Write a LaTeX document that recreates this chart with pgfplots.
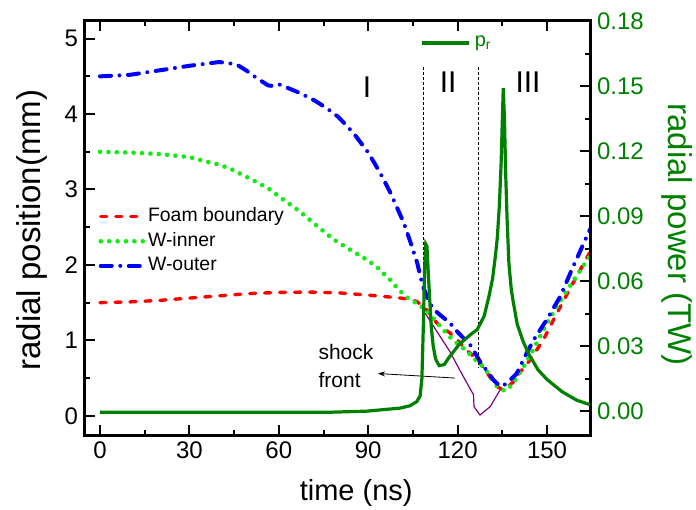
\documentclass[border=0pt]{standalone}
\usepackage{fontspec}
\setmainfont{Liberation Sans}
\usepackage{pgfplots}
\pgfplotsset{compat=1.18}
\usetikzlibrary{arrows.meta}
\definecolor{dgreen}{RGB}{0,128,0}
\definecolor{lgreen}{RGB}{20,235,20}
\definecolor{mypurple}{RGB}{128,0,128}
\begin{document}
\begin{tikzpicture}
\begin{axis}[
 scale only axis, width=252.5pt, height=207pt,
 xmin=-5.03, xmax=164.4, ymin=-0.255, ymax=5.234,
 xtick={0,30,60,90,120,150}, ytick={0,1,2,3,4,5},
 minor x tick num=1, minor y tick num=1,
 tick align=inside, xtick pos=both, ytick pos=left, xticklabel pos=lower,
 major tick length=5pt, minor tick length=2.5pt,
 tick style={line width=1pt, black},
 axis line style={line width=1.5pt, black},
 /pgf/number format/assume math mode=true,
 tick label style={font=\fontsize{12}{14}\selectfont},
 xlabel={time (ns)}, ylabel={radial position(mm)},
 every axis x label/.style={at={(0.537,-0.14)}, anchor=center, font=\fontsize{14.5}{16}\selectfont},
 every axis y label/.style={at={(-0.105,0.495)}, rotate=90, anchor=center, font=\fontsize{16.5}{18}\selectfont},
 clip mode=individual,
 legend cell align=left,
 legend style={draw=none, fill=none, at={(0.014,0.567)}, anchor=north west, font=\fontsize{9.7}{11}\selectfont, row sep=0.3pt, nodes={inner sep=1.5pt, text height=7pt, text depth=2pt}},
 legend image code/.code={\draw[#1] (0pt,0pt) -- (21pt,0pt);},
]
% Foam boundary
\addplot[red, line width=1.7pt, line cap=round, dash pattern=on 3pt off 4.5pt] coordinates {
(0,1.50) (10,1.51) (20,1.53) (30,1.56) (40,1.59) (50,1.62) (60,1.635) (70,1.64) (80,1.63)
(90,1.60) (97,1.575) (101,1.56) (104,1.54) (106.3,1.515) (109.1,1.43) (111,1.33) (113,1.23)
(115,1.16) (117.4,1.10) (120,1.0) (123,0.87) (125.3,0.79) (127.5,0.70) (130,0.56) (133.1,0.39)
(135.3,0.34) (136.5,0.37) (138.7,0.45) (141,0.58) (144.3,0.74) (148.8,1.01) (153.3,1.36)
(158.7,1.76) (164.4,2.17)};
\addlegendentry{Foam boundary}
% W-inner
\addplot[lgreen, line width=2.3pt, line cap=round, dash pattern=on 0pt off 4.2pt] coordinates {
(0,3.50) (10,3.49) (20,3.47) (30,3.43) (35.6,3.37) (40,3.33) (44.6,3.26) (48,3.19) (53,3.09)
(57,3.0) (61,2.88) (67,2.71) (72.7,2.52) (78.3,2.34) (84,2.2) (89.5,2.07) (93,1.97) (97.4,1.80)
(100,1.68) (103,1.57) (105,1.52) (107,1.47) (110,1.38) (114,1.19) (118,1.02) (123,0.86)
(126,0.74) (128.8,0.64) (131,0.52) (133.4,0.38) (135.8,0.33) (138,0.40) (140,0.52) (142,0.64)
(145,0.85) (150,1.23) (155,1.56) (157,1.68) (160.5,1.89) (164.4,2.12)};
\addlegendentry{W-inner}
% W-outer
\addplot[blue, line width=2pt, line cap=round, dash pattern=on 5.5pt off 4.25pt on 0pt off 4.25pt] coordinates {
(0,4.50) (10,4.52) (20,4.58) (30,4.64) (40,4.69) (45.7,4.66) (49,4.58) (52.5,4.48) (56.4,4.38)
(58.5,4.37) (60.3,4.39) (64,4.33) (67,4.28) (72,4.18) (76,4.08) (80,3.96) (85,3.75) (90,3.49)
(94,3.22) (97.4,2.96) (101.9,2.56) (104,2.32) (106.4,2.03) (108.3,1.72) (110.5,1.50) (112,1.41)
(114,1.34) (117.4,1.23) (120.2,1.10) (124.2,0.94) (127.5,0.72) (132,0.475) (134,0.40) (135,0.39)
(137,0.45) (139.8,0.56) (142.5,0.78) (145.4,1.0) (150,1.28) (154.4,1.58) (159,2.0) (164.4,2.47)};
\addlegendentry{W-outer}
% shock front
\addplot[forget plot, mypurple, line width=0.6pt] coordinates {
(109.1,1.36) (113,1.12) (117.4,0.85) (121.9,0.52) (125.3,0.28) (125.5,0.12) (126.4,0.07)
(127.5,0.01) (128.1,0.03) (130.9,0.12) (134.2,0.34)};
% region separators
\addplot[forget plot, black, line width=0.6pt, dash pattern=on 1.5pt off 1pt] coordinates {(108.5,4.63) (108.5,1.5)};
\addplot[forget plot, black, line width=0.6pt, dash pattern=on 1.5pt off 1pt] coordinates {(126.9,4.63) (126.9,0.635)};
% arrow
\addplot[forget plot, black, line width=0.4pt, -{Stealth[length=3.5pt,width=2.5pt]}] coordinates {(119.1,0.50) (93.3,0.56)};
\node[font=\fontsize{15}{17}\selectfont] at (axis cs:89.6,4.35) {I};
\node[font=\fontsize{15}{17}\selectfont] at (axis cs:116.8,4.42) {II};
\node[font=\fontsize{15}{17}\selectfont] at (axis cs:143.6,4.42) {III};
\node[align=left, anchor=west, font=\fontsize{10.5}{14}\selectfont, inner sep=0pt] at (axis cs:73.2,0.66) {shock\\front};
\draw[line width=1.5pt, black] (rel axis cs:0,0) rectangle (rel axis cs:1,1);
\end{axis}
\begin{axis}[
 scale only axis, width=252.5pt, height=207pt,
 xmin=-5.03, xmax=164.4, ymin=-0.011, ymax=0.18,
 axis x line=none, axis y line*=right,
 y axis line style={-, line width=1.5pt, black},
 ytick={0,0.03,0.06,0.09,0.12,0.15,0.18}, minor y tick num=1,
 tick align=inside,
 major tick length=5pt, minor tick length=2.5pt,
 tick style={line width=1pt, black},
 /pgf/number format/assume math mode=true,
 yticklabel style={text=dgreen, font=\fontsize{12}{14}\selectfont, /pgf/number format/.cd, fixed, fixed zerofill, precision=2},
 ylabel={radial power (TW)},
 every axis y label/.style={at={(1.172,0.484)}, rotate=-90, anchor=center, text=dgreen, font=\fontsize{16.5}{18}\selectfont},
 legend style={draw=none, fill=none, at={(0.652,0.947)}, anchor=west, text=dgreen, font=\fontsize{10}{12}\selectfont},
 legend image code/.code={\draw[#1] (0pt,0pt) -- (23.5pt,0pt);},
]
\addplot[dgreen, line width=1.6pt] coordinates {
(0,-0.0005) (40,-0.0005) (77,-0.0005) (89.5,0.0000) (95,0.0007) (100.7,0.0014) (104,0.0025)
(106.3,0.0044) (107.4,0.007) (108.0,0.015) (108.5,0.040) (108.9,0.065) (109.3,0.077) (109.7,0.076)
(110.1,0.065) (110.6,0.052) (111.2,0.038) (111.8,0.030) (112.6,0.024) (113.8,0.021) (115.5,0.0215)
(117.1,0.0248) (120.5,0.0308) (124.4,0.0354) (126.6,0.0377) (128.9,0.0439) (130.5,0.053)
(131.7,0.061) (132.7,0.072) (133.3,0.080) (134,0.095) (134.6,0.115) (135.0,0.135) (135.3,0.149)
(135.7,0.135) (136.1,0.11) (136.6,0.088) (137.2,0.068) (138,0.056) (138.7,0.050) (140,0.040)
(142,0.032) (144,0.026) (147,0.019) (150,0.0146) (155,0.009) (160,0.005) (164.4,0.003)};
\addlegendentry{p\textsubscript{r}}
\end{axis}
\pgfresetboundingbox
\path[use as bounding box] ([shift={(-42.5pt,-37pt)}]current axis.south west) rectangle ([shift={(53pt,10.5pt)}]current axis.north east);
\end{tikzpicture}
\end{document}
